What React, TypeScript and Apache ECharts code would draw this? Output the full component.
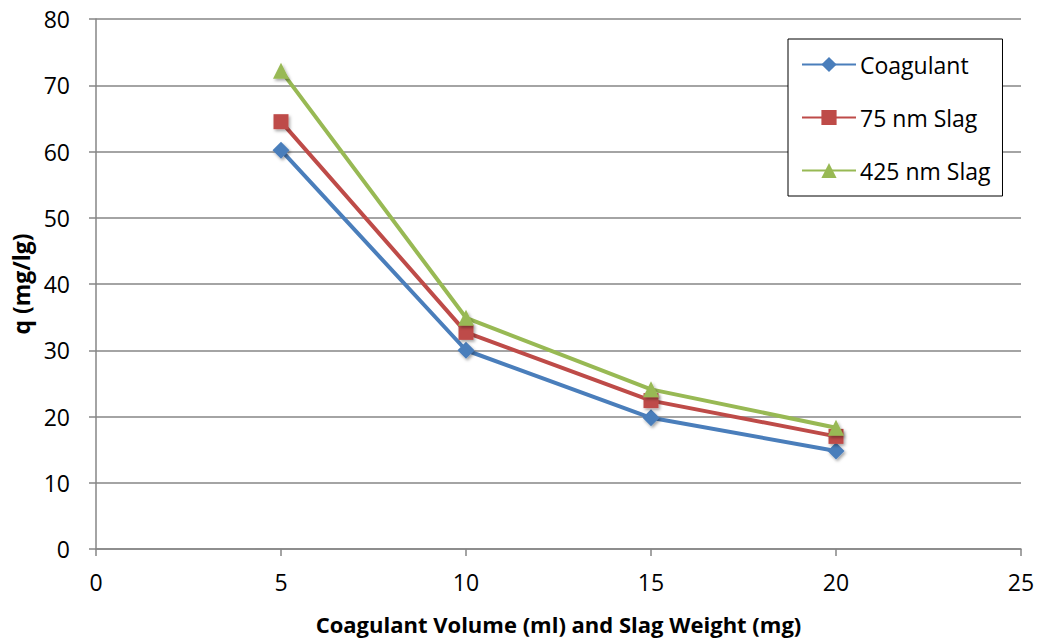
import React, { useEffect, useRef } from "react";
import * as echarts from "echarts";

const xValues = [5, 10, 15, 20];
const coagulant = [60.2, 30.0, 19.8, 14.8];
const slag75 = [64.5, 32.7, 22.4, 17.0];
const slag425 = [72.2, 34.9, 24.1, 18.3];
const seriesNames = ["Coagulant", "75 nm Slag", "425 nm Slag"];
const xTitle = "Coagulant Volume (ml) and Slag Weight (mg)";
const yTitle = "q (mg/lg)";

const FONT = "'Open Sans', sans-serif";

export default function App() {
  const ref = useRef<HTMLDivElement>(null);
  useEffect(() => {
    const chart = echarts.init(ref.current!, null, { renderer: "svg" });
    const pair = (ys: number[]) => xValues.map((x, i) => [x, ys[i]]);
    const shadow = {
      shadowColor: "rgba(0,0,0,0.35)",
      shadowBlur: 3,
      shadowOffsetX: 1.5,
      shadowOffsetY: 2,
    };
    const mk = (name: string, data: number[], color: string, symbol: string, size: number) => ({
      name,
      type: "line",
      data: pair(data),
      symbol,
      symbolSize: size,
      lineStyle: { color, width: 4 },
      itemStyle: { color, ...shadow },
      emphasis: { disabled: true },
    });
    chart.setOption({
      animation: false,
      textStyle: { fontFamily: FONT },
      grid: { left: 96, top: 19, right: 20, bottom: 93, containLabel: false },
      xAxis: {
        type: "value",
        min: 0,
        max: 25,
        interval: 5,
        name: xTitle,
        nameLocation: "middle",
        nameGap: 64,
        nameTextStyle: { fontFamily: FONT, fontWeight: "bold", fontSize: 22, color: "#000" },
        axisLine: { show: true, lineStyle: { color: "#868686", width: 1.5 } },
        axisTick: { show: true, length: 7, lineStyle: { color: "#868686", width: 1.5 } },
        axisLabel: { fontFamily: FONT, fontSize: 23, color: "#000", margin: 21 },
        splitLine: { show: false },
      },
      yAxis: {
        type: "value",
        min: 0,
        max: 80,
        interval: 10,
        name: yTitle,
        nameLocation: "middle",
        nameGap: 64,
        nameRotate: 90,
        nameTextStyle: { fontFamily: FONT, fontWeight: "bold", fontSize: 23, color: "#000" },
        axisLine: { show: true, lineStyle: { color: "#868686", width: 1.5 } },
        axisTick: { show: true, length: 7, lineStyle: { color: "#868686", width: 1.5 } },
        axisLabel: { fontFamily: FONT, fontSize: 23, color: "#000", margin: 26 },
        splitLine: { show: true, lineStyle: { color: "#868686", width: 1.5 } },
      },
      legend: {
        orient: "vertical",
        left: 788,
        top: 39,
        padding: [14, 12, 14, 13],
        itemGap: 30,
        itemWidth: 54,
        itemHeight: 19,
        borderColor: "#000",
        borderWidth: 1,
        backgroundColor: "#fff",
        textStyle: { fontFamily: FONT, fontSize: 23, color: "#000", lineHeight: 22, padding: [0, 0, 0, -1] },
        data: seriesNames,
      },
      series: [
        mk(seriesNames[0], coagulant, "#4A7EBB", "diamond", 17),
        mk(seriesNames[1], slag75, "#BE4B48", "rect", 15),
        mk(seriesNames[2], slag425, "#98B954", "triangle", 16),
      ],
    });
    return () => chart.dispose();
  }, []);
  return (
    <div
      ref={ref}
      style={{ position: "absolute", left: 0, top: 0, width: 1041, height: 642, background: "#fff" }}
    />
  );
}
